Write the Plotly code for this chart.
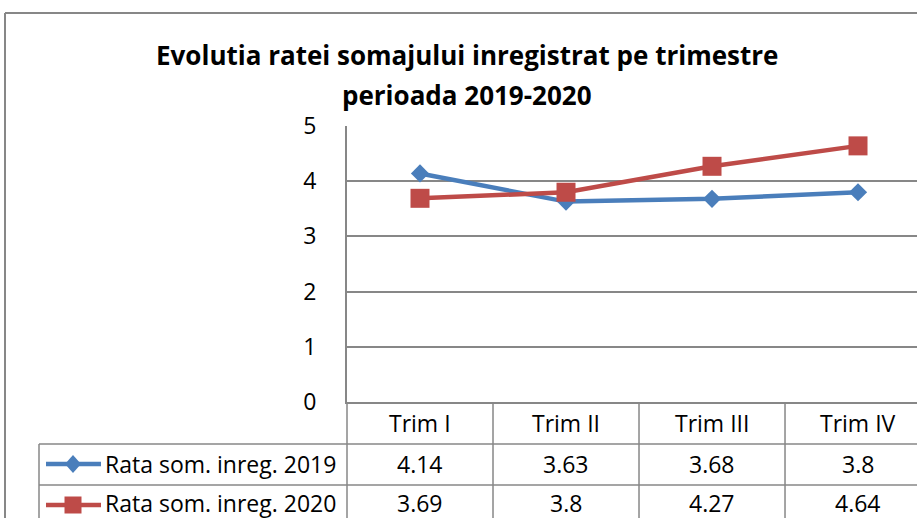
import plotly.graph_objects as go

categories = ["Trim I", "Trim II", "Trim III", "Trim IV"]
series_names = ["Rata som. inreg. 2019", "Rata som. inreg. 2020"]
values_2019 = [4.14, 3.63, 3.68, 3.8]
values_2020 = [3.69, 3.8, 4.27, 4.64]
title_lines = ["Evolutia ratei somajului inregistrat pe trimestre", "perioada 2019-2020"]

W, H = 917, 518
L, R, T, B = 347, 0, 126, 116
PW, PH = W - L - R, H - T - B
XR = [-0.5, 3.404]
GRID = "#878787"
BLUE = "#4A7EBB"
RED = "#BE4B48"
FONT = "Open Sans"

def px(x):
    return (x - L) / PW

def py(y):
    return (H - B - y) / PH

def cat_to_paper(c):
    return (c - XR[0]) / (XR[1] - XR[0])

fig = go.Figure()
fig.add_trace(go.Scatter(x=categories, y=values_2019, mode="lines+markers", name=series_names[0],
                         line=dict(color=BLUE, width=4.5),
                         marker=dict(symbol="diamond", size=14, color=BLUE), cliponaxis=False))
fig.add_trace(go.Scatter(x=categories, y=values_2020, mode="lines+markers", name=series_names[1],
                         line=dict(color=RED, width=4.5),
                         marker=dict(symbol="square", size=19, color=RED), cliponaxis=False))

shapes = []
def hline(y, x0, x1, w=1):
    shapes.append(dict(type="line", xref="paper", yref="paper", x0=px(x0), x1=px(x1), y0=py(y), y1=py(y),
                       line=dict(color=GRID, width=w)))
def vline(x, y0, y1, w=1, xp=None):
    xx = px(x) if xp is None else xp
    shapes.append(dict(type="line", xref="paper", yref="paper", x0=xx, x1=xx, y0=py(y0), y1=py(y1),
                       line=dict(color=GRID, width=w)))

# outer chart border
hline(13, 5, W + 5, 2)
vline(5, 13, H + 5, 2)
# table
hline(444, 39, W + 5, 1.5)
hline(485, 39, W + 5, 1.5)
vline(39, 444, H + 5, 1.5)
vline(L, 402, H + 5, 1.5)
for i in range(len(categories)):
    vline(0, 402, H + 5, 1.5, xp=cat_to_paper(i + 0.5))

txt = dict(family=FONT, size=23, color="#000")
annotations = []
for i, c in enumerate(categories):
    annotations.append(dict(x=c, xref="x", y=py(423), yref="paper", text=c, showarrow=False,
                            xanchor="center", yanchor="middle", font=txt))
rows = [(values_2019, BLUE, "diamond", 464), (values_2020, RED, "square", 503)]
for (vals, col, sym, yy), name in zip(rows, series_names):
    for c, v in zip(categories, vals):
        annotations.append(dict(x=c, xref="x", y=py(yy), yref="paper", text=str(v), showarrow=False,
                                xanchor="center", yanchor="middle", font=txt))
    annotations.append(dict(x=px(103), xref="paper", xanchor="left", y=py(yy), yref="paper",
                            yanchor="middle", text=name, showarrow=False, font=txt))
    ky = yy if sym == "diamond" else 505
    shapes.append(dict(type="line", xref="paper", yref="paper", x0=px(46), x1=px(101), y0=py(ky), y1=py(ky),
                       line=dict(color=col, width=4.5)))
    cx, cy = 73, ky
    if sym == "diamond":
        path = (f"M {px(cx-8)},{py(cy)} L {px(cx)},{py(cy-9)} L {px(cx+8)},{py(cy)} "
                f"L {px(cx)},{py(cy+9)} Z")
    else:
        d = 8.5
        path = (f"M {px(cx-d)},{py(cy-d)} L {px(cx+d)},{py(cy-d)} L {px(cx+d)},{py(cy+d)} "
                f"L {px(cx-d)},{py(cy+d)} Z")
    shapes.append(dict(type="path", xref="paper", yref="paper", path=path, fillcolor=col,
                       line=dict(color=col, width=0)))

for line, yy in zip(title_lines, [55, 95]):
    annotations.append(dict(x=px(467), xref="paper", y=py(yy), yref="paper", text=f"<b>{line}</b>",
                            xanchor="center", yanchor="middle", showarrow=False,
                            font=dict(family=FONT, size=26, color="#000")))

fig.update_layout(
    width=W, height=H, margin=dict(l=L, r=R, t=T, b=B),
    paper_bgcolor="white", plot_bgcolor="white", showlegend=False,
    shapes=shapes, annotations=annotations,
    xaxis=dict(type="category", range=XR, showgrid=False, showticklabels=False, zeroline=False,
               showline=True, linecolor=GRID, linewidth=2, ticks=""),
    yaxis=dict(range=[0, 5], dtick=1, showgrid=True, gridcolor=GRID, gridwidth=1.5, zeroline=False,
               showline=True, linecolor=GRID, linewidth=2, ticks="", ticklabelstandoff=24,
               tickfont=dict(family=FONT, size=23, color="#000")),
)
fig.write_html("out.html", config={"displayModeBar": False},
               post_script="document.body.style.margin='0';")
